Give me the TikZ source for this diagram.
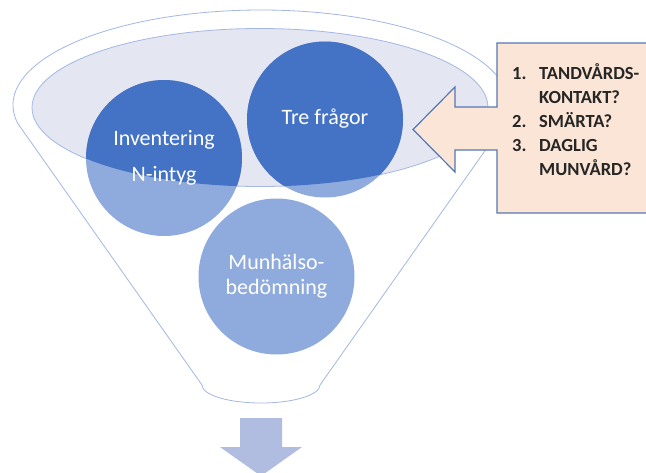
\documentclass[tikz,border=0pt]{standalone}
\usepackage{fontspec}
\setmainfont{Carlito}
\definecolor{darkblue}{HTML}{4472C4}
\definecolor{lightblue}{HTML}{8FAADC}
\definecolor{rimfill}{HTML}{E4E7F2}
\definecolor{rimline}{HTML}{A4B7E3}
\definecolor{calloutfill}{HTML}{FBE5D6}
\definecolor{calloutline}{HTML}{5677B2}
\definecolor{downarrow}{HTML}{B0BDE0}
\definecolor{calltext}{HTML}{262626}
\tikzset{
  funnelline/.style={draw=rimline, line width=0.8pt},
  circ/.style={circle, minimum size=156pt, inner sep=0pt, fill=lightblue},
  ctext/.style={text=white, align=center, inner sep=0pt, font=\fontsize{22}{26}\selectfont},
}
\begin{document}
\begin{tikzpicture}[x=1pt, y=-1pt]
\clip (0,0) rectangle (646,472);
\fill[white] (0,0) rectangle (646,472);
% funnel outer body
\draw[funnelline, fill=white]
  (261,105) ++(169.1:248 and 95) arc[start angle=169.1, end angle=370.9, x radius=248, y radius=95]
  -- (320,385) arc[start angle=0, end angle=180, x radius=59, y radius=18]
  -- cycle;
% inner rim ellipse
\draw[funnelline, fill=rimfill] (260,107.5) ellipse[x radius=228, y radius=79];
% circles (light part)
\node[circ] (inv) at (164,158) {};
\node[circ] (tre) at (325,119.5) {};
\node[circ] (mun) at (276.5,276.5) {};
% dark part inside the rim
\begin{scope}
  \clip (260,107.5) ellipse[x radius=228, y radius=79];
  \fill[darkblue] (inv.center) circle[radius=78];
  \fill[darkblue] (tre.center) circle[radius=78];
  \fill[darkblue] (mun.center) circle[radius=78];
\end{scope}
% texts
\node[ctext] (invtext) at (164,158) {Inventering\\[10pt]N-intyg};
\node[ctext] (tretext) at (325,119) {Tre frågor};
\node[ctext, font=\fontsize{22}{25}\selectfont] (muntext) at (276.5,276) {Munhälso-\\bedömning};
% callout
\draw[fill=calloutfill, draw=calloutline, line width=1.2pt, line join=miter]
  (497,43) -- (660,43) -- (660,213) -- (497,213) -- (497,150) -- (455,150)
  -- (455,172) -- (413,129.5) -- (455,87) -- (455,107) -- (497,107) -- cycle;
\node[anchor=north west, inner sep=0pt, text=calltext,
      font=\fontsize{18.5}{24}\selectfont\bfseries] (calltxt) at (512,62)
  {\begin{tabular}{@{}p{27pt}@{}l@{}}
   1. & TANDVÅRDS-\\
      & KONTAKT?\\
   2. & SMÄRTA?\\
   3. & DAGLIG\\
      & MUNVÅRD?
   \end{tabular}};
% bottom arrow
\fill[downarrow] (240,418) -- (282,418) -- (282,447) -- (302,447) -- (261,476)
  -- (220,447) -- (240,447) -- cycle;
\end{tikzpicture}
\end{document}
